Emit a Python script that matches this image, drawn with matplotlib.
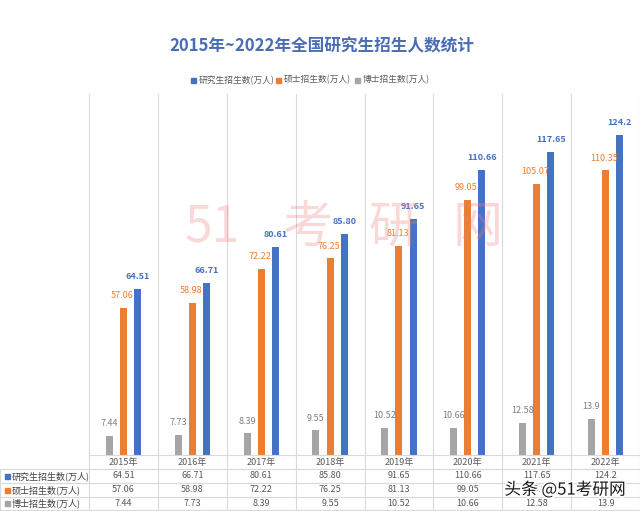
import matplotlib
matplotlib.use("Agg")
import matplotlib.pyplot as plt
import matplotlib.transforms as mtransforms
import matplotlib.patheffects as pe
from matplotlib.patches import Rectangle
import numpy as np

plt.rcParams['font.family'] = ['Noto Sans CJK SC', 'DejaVu Sans']

years = ["2015年", "2016年", "2017年", "2018年", "2019年", "2020年", "2021年", "2022年"]
total = [64.51, 66.71, 80.61, 85.80, 91.65, 110.66, 117.65, 124.2]
master = [57.06, 58.98, 72.22, 76.25, 81.13, 99.05, 105.07, 110.35]
doctor = [7.44, 7.73, 8.39, 9.55, 10.52, 10.66, 12.58, 13.9]
total_lbl = ["64.51", "66.71", "80.61", "85.80", "91.65", "110.66", "117.65", "124.2"]
master_lbl = ["57.06", "58.98", "72.22", "76.25", "81.13", "99.05", "105.07", "110.35"]
doctor_lbl = ["7.44", "7.73", "8.39", "9.55", "10.52", "10.66", "12.58", "13.9"]
series_names = ["研究生招生数(万人)", "硕士招生数(万人)", "博士招生数(万人)"]

c_blue = "#4472C4"
c_orange = "#ED7D31"
c_gray = "#A5A5A5"
grid_c = "#D9D9D9"

W, H = 640, 511
fig = plt.figure(figsize=(6.4, 5.11), dpi=100)
fig.patch.set_facecolor("white")

def fy(py):
    return 1 - py / H

def fx(px):
    return px / W

ax_left, ax_right, ax_top, ax_bot = 89, 640, 94, 455
ax = fig.add_axes([fx(ax_left), fy(ax_bot), (ax_right - ax_left) / W, (ax_bot - ax_top) / H])
ax.set_xlim(0, len(years))
ax.set_ylim(0, 140)
for s in ax.spines.values():
    s.set_visible(False)
ax.set_xticks([])
ax.set_yticks([])
ax.patch.set_alpha(0)

x = np.arange(len(years)) + 0.5
bw = 0.1
off = 0.205
ax.bar(x - off, doctor, width=bw, color=c_gray, zorder=3)
ax.bar(x, master, width=bw, color=c_orange, zorder=3)
ax.bar(x + off, total, width=bw, color=c_blue, zorder=3)

for i in range(len(years)):
    ax.text(x[i] - off, doctor[i] + 3, doctor_lbl[i], ha='center', va='bottom', fontsize=6.5, color="#7F7F7F", zorder=4)
    ax.text(x[i] - 0.02, master[i] + 3, master_lbl[i], ha='center', va='bottom', fontsize=6.5, color=c_orange, zorder=4)
    ax.text(x[i] + off, total[i] + 3, total_lbl[i], ha='center', va='bottom', fontsize=6.5, color=c_blue, fontweight='bold', zorder=4)

blend = mtransforms.blended_transform_factory(ax.transData, fig.transFigure)
for k in range(len(years) + 1):
    fig.add_artist(plt.Line2D([k, k], [fy(510), fy(ax_top)], transform=blend, color=grid_c, lw=0.8, zorder=1))

row_lines = [455, 469, 483, 497, 510]
for j, yy in enumerate(row_lines):
    x0 = fx(ax_left) if j == 0 else 0.0
    fig.add_artist(plt.Line2D([x0, 1], [fy(yy), fy(yy)], transform=fig.transFigure, color=grid_c, lw=0.8))
fig.add_artist(plt.Line2D([0, 0], [fy(510), fy(469)], transform=fig.transFigure, color=grid_c, lw=0.8))

for i, yl in enumerate(years):
    fig.text(x[i], fy(462), yl, transform=blend, fontsize=6.5, color="#595959", ha='center', va='center')

rows = [(total_lbl, c_blue), (master_lbl, c_orange), (doctor_lbl, c_gray)]
row_y = [476, 490, 503.5]
for (vals, col), yy, name in zip(rows, row_y, series_names):
    for i, v in enumerate(vals):
        fig.text(x[i], fy(yy), v, fontsize=6.5, color="#595959", ha='center', va='center', transform=blend)
    fig.add_artist(Rectangle((fx(5), fy(yy + 2.5)), 5 / W, 5 / H, transform=fig.transFigure, color=col))
    fig.text(fx(12), fy(yy), name, fontsize=6.5, color="#404040", ha='left', va='center')

fig.text(fx(322), fy(46), "2015年~2022年全国研究生招生人数统计", fontsize=12, fontweight='bold',
         color="#4A6DB5", ha='center', va='center')

items = [(c_blue, series_names[0], 191), (c_orange, series_names[1], 276), (c_gray, series_names[2], 355)]
for col, name, xp in items:
    fig.add_artist(Rectangle((fx(xp), fy(83)), 5 / W, 5 / H, transform=fig.transFigure, color=col))
    fig.text(fx(xp + 8), fy(80), name, fontsize=6.3, color="#595959", ha='left', va='center')

wm = [("51", 212), ("考", 308), ("研", 393), ("网", 478)]
for t, xp in wm:
    fig.text(fx(xp), fy(228), t, fontsize=36, color="#F08080", alpha=0.3,
             ha='center', va='center', zorder=5)
fig.text(fx(565), fy(490), "头条 @51考研网", fontsize=12, color="#1a1a1a", ha='center', va='center',
         path_effects=[pe.withStroke(linewidth=2.5, foreground='white')], zorder=10)

fig.savefig("out.png", dpi=100, facecolor="white")
